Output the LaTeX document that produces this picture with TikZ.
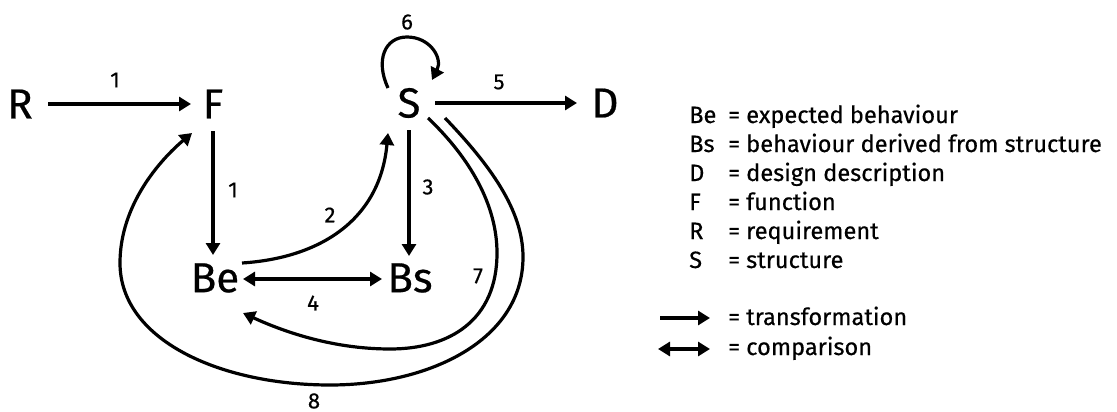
\documentclass[tikz,border=0pt]{standalone}
\usepackage{fontspec}
\setmainfont{Fira Sans}[FakeBold=0.5]
\usetikzlibrary{arrows.meta}
\begin{document}
\begin{tikzpicture}[x=1pt,y=-1pt,
  big/.style={font=\fontsize{42}{42}\selectfont, inner sep=0pt, outer sep=0pt},
  num/.style={font=\fontsize{22}{22}\selectfont, inner sep=0pt},
  leg/.style={font=\fontsize{23.6}{23.6}\selectfont, inner sep=0pt, anchor=base west},
  tip/.tip={Triangle[length=12pt,width=14pt]},
  arr/.style={line width=3.2pt, -tip},
  dbl/.style={line width=3.2pt, tip-tip},
]
\useasboundingbox (0,0) rectangle (1117,412);
% main nodes
\node[big] (R)  at (20,104)  {R};
\node[big] (F)  at (213,104) {F};
\node[big] (S)  at (409,103) {S};
\node[big] (D)  at (605,103) {D};
\node[big] (Be) at (215,278) {Be};
\node[big] (Bs) at (410,278) {Bs};
% straight connectors
\draw[arr] ([shift={(28,0)}]R.center) -- ([shift={(-22,0)}]F.center);
\draw[arr] ([shift={(0,27)}]F.center) -- ([shift={(-2,-23)}]Be.center);
\draw[arr] ([shift={(0,27)}]S.center) -- ([shift={(-1,-22)}]Bs.center);
\draw[arr] ([shift={(26,0)}]S.center) -- ([shift={(-28,0)}]D.center);
\draw[dbl] ([shift={(28,1)}]Be.center) -- ([shift={(-28,1)}]Bs.center);
% curved connectors
\draw[arr] ([shift={(27,-15)}]Be.center) .. controls (320,258) and (380,220) .. ([shift={(-21,30)}]S.center);
\draw[arr] ([shift={(-21,-15)}]S.center) .. controls (375,60) and (385,37) .. (407,37)
   .. controls (430,37) and (443,58) .. ([shift={(23,-23)}]S.center);
\draw[arr] ([shift={(19,15)}]S.center) .. controls (470,158) and (497,205) .. (497,253)
   .. controls (497,320) and (450,349) .. (390,349)
   .. controls (330,349) and (280,330) .. ([shift={(28,35)}]Be.center);
\draw[arr] ([shift={(36,15)}]S.center) .. controls (490,165) and (523,210) .. (523,257)
   .. controls (523,340) and (430,385) .. (330,385)
   .. controls (220,385) and (120,340) .. (120,263)
   .. controls (120,205) and (160,160) .. ([shift={(-21,29)}]F.center);
% labels
\node[num] (n1a) at (115,80)  {1};
\node[num] (n1b) at (233,190) {1};
\node[num] (n2)  at (330,215) {2};
\node[num] (n3)  at (428,187) {3};
\node[num] (n4)  at (313,303) {4};
\node[num] (n5)  at (499,82)  {5};
\node[num] (n6)  at (407,22)  {6};
\node[num] (n7)  at (478,276) {7};
\node[num] (n8)  at (314,401) {8};
% legend
\foreach \k/\sym/\txt [count=\i from 0] in {Be/Be/expected behaviour, Bs/Bs/behaviour derived from structure, D/D/design description, F/F/function, R/R/requirement, S/S/structure}{
  \node[leg] (ls\k) at (689,{123+29*\i}) {\sym};
  \node[leg] (lt\k) at (728,{123+29*\i}) {= \txt};
}
\coordinate (ta) at (660,318);
\coordinate (tb) at (710,318);
\coordinate (ca) at (658,349);
\coordinate (cb) at (710,349);
\draw[arr] (ta) -- (tb);
\draw[dbl] (ca) -- (cb);
\node[leg] (ltr) at (728,325) {= transformation};
\node[leg] (lcp) at (728,355) {= comparison};
\end{tikzpicture}
\end{document}
